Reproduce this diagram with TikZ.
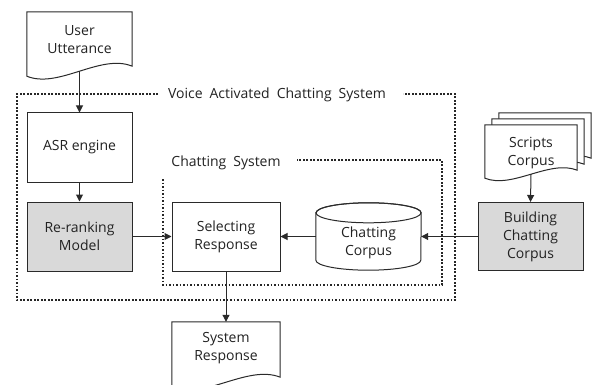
\documentclass[tikz,border=0pt]{standalone}
\usepackage{fontspec}
\setmainfont{Open Sans}
\usetikzlibrary{arrows.meta,calc}
\definecolor{linec}{HTML}{2A2A2A}
\definecolor{boxgray}{HTML}{D9D9D9}
\definecolor{txt}{HTML}{222222}
\newcommand\mydocshape[3]{%
  \path[docline] ([yshift=-#2pt]#1.south west) -- (#1.north west) -- (#1.north east) -- ([yshift=#2pt]#1.south east)
    .. controls ($(#1.south west)!0.7!(#1.south east)+(0,#3pt)$) and ($(#1.south west)!0.3!(#1.south east)+(0,-#3pt)$) .. ([yshift=-#2pt]#1.south west) -- cycle;}
\tikzset{
  txtstyle/.style={font=\fontsize{14}{18}\selectfont, text=txt, align=center, inner sep=0pt},
  boxnode/.style={txtstyle, draw=linec, line width=1pt, fill=white},
  graybox/.style={boxnode, fill=boxgray},
  emptynode/.style={inner sep=0pt, draw=none},
  docline/.style={draw=linec, line width=1pt, fill=white},
  arr/.style={draw=linec, line width=1pt, -{Triangle[length=7pt,width=7pt]}},
  dotline/.style={draw=black!85, line width=1.8pt, dash pattern=on 1.8pt off 1.7pt},
}
\begin{document}
\begin{tikzpicture}[x=1pt,y=-1pt]
\useasboundingbox (0,0) rectangle (594,385);
\clip (0,0) rectangle (594,385);
% dotted frames
\node[txtstyle] (vacs) at (277,95) {Voice\enspace Activated\enspace Chatting\enspace System};
\node[txtstyle] (cs) at (226,163) {Chatting\enspace System};
\path[dotline] (158,94) -- (17,94) -- (17,300) -- (455,300) -- (455,94) -- (403,94);
\path[dotline] (163,179) -- (163,285) -- (442,285) -- (442,160) -- (297,160);
% user utterance
\node[emptynode, minimum width=105pt, minimum height=59pt] (su) at (79.5,41.5) {};
\mydocshape{su}{5}{18}
\node[txtstyle] at (79.5,39.5) {User\\Utterance};
% boxes
\node[boxnode, minimum width=105pt, minimum height=69pt] (asr) at (79.5,147.5) {ASR engine};
\node[graybox, minimum width=105pt, minimum height=69pt] (rr) at (79.5,236.5) {Re-ranking\\Model};
\node[boxnode, minimum width=108pt, minimum height=69pt] (sel) at (226,236.5) {Selecting\\Response};
\node[graybox, minimum width=105pt, minimum height=68pt] (bcc) at (530.5,236.5) {Building\\Chatting\\Corpus};
% cylinder
\node[emptynode, minimum width=105pt, minimum height=67pt] (cc) at (368.5,236.5) {};
\path[docline] ([yshift=-10pt]cc.north west) -- ([yshift=10pt]cc.south west)
  arc[start angle=180, end angle=360, x radius=52.5pt, y radius=10pt] -- ([yshift=-10pt]cc.north east)
  arc[start angle=0, end angle=180, x radius=52.5pt, y radius=10pt] -- cycle;
\draw[draw=linec, line width=1pt] ([yshift=-10pt]cc.north) ellipse[x radius=52.5pt, y radius=10pt];
\node[txtstyle] at (368.5,243) {Chatting\\Corpus};
% scripts corpus
\node[emptynode, minimum width=92pt, minimum height=49pt] (sc3) at (545,137.5) {};
\mydocshape{sc3}{4}{15}
\node[emptynode, minimum width=92pt, minimum height=49pt] (sc2) at (538,143.5) {};
\mydocshape{sc2}{4}{15}
\node[emptynode, minimum width=92pt, minimum height=49pt] (sc1) at (531,149.5) {};
\mydocshape{sc1}{4}{15}
\node[txtstyle] at (531,153) {Scripts\\Corpus};
% system response
\node[emptynode, minimum width=108pt, minimum height=60pt] (sr) at (226,352) {};
\mydocshape{sr}{5}{18}
\node[txtstyle] at (226,348.5) {System\\Response};
% arrows
\draw[arr] (su.south) -- (asr.north);
\draw[arr] (asr) -- (rr);
\draw[arr] (rr) -- (sel);
\draw[arr] (cc) -- (sel);
\draw[arr] (bcc) -- (cc);
\draw[arr] (sc1.south) -- (bcc.north);
\draw[arr] (sel) -- (sr);
\end{tikzpicture}
\end{document}
